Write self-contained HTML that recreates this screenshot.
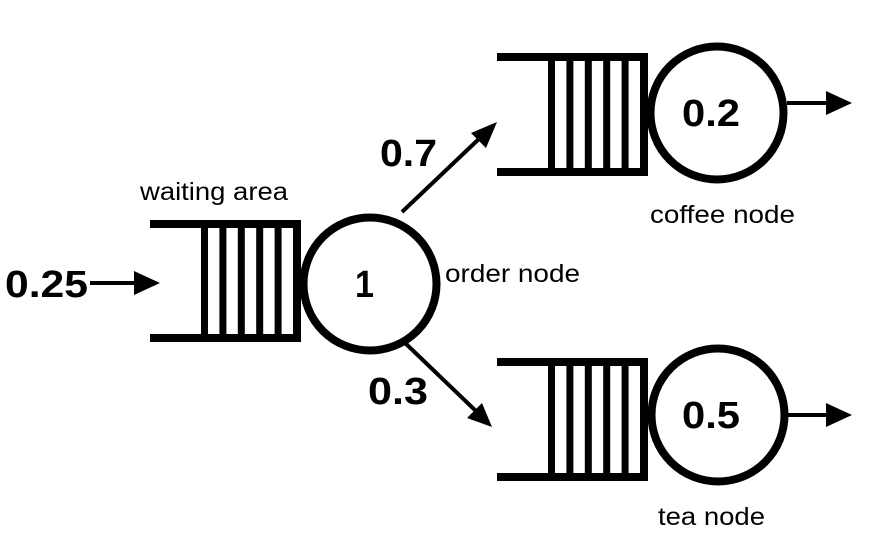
<!DOCTYPE html>
<html><head><meta charset="utf-8"><style>
html,body{margin:0;padding:0;background:#fff;}
svg{display:block;font-family:"Liberation Sans",Arial,sans-serif;}
</style></head><body>
<svg width="878" height="554" viewBox="0 0 878 554">
<g id="queues"></g>
<g><line x1="90" y1="283" x2="138" y2="283" stroke="#000" stroke-width="4"/><path d="M134,271 L160,283 L134,295 z" fill="#000"/></g>
<text x="5" y="297" font-size="38" font-weight="bold" textLength="83" lengthAdjust="spacingAndGlyphs">0.25</text>
<text x="140" y="200" font-size="25" textLength="148" lengthAdjust="spacingAndGlyphs">waiting area</text>
<g><line x1="402" y1="212" x2="482" y2="136" stroke="#000" stroke-width="4"/><path d="M497,122 L471,133 L486,148 z" fill="#000"/></g>
<g><line x1="402" y1="340" x2="478" y2="413" stroke="#000" stroke-width="4"/><path d="M492,427 L467,418 L482,403 z" fill="#000"/></g>
<text x="380" y="166" font-size="38" font-weight="bold" textLength="57" lengthAdjust="spacingAndGlyphs">0.7</text>
<text x="368" y="404" font-size="38" font-weight="bold" textLength="60" lengthAdjust="spacingAndGlyphs">0.3</text>
<text x="445" y="282" font-size="25" textLength="135" lengthAdjust="spacingAndGlyphs">order node</text>
<text x="650" y="223" font-size="25" textLength="145" lengthAdjust="spacingAndGlyphs">coffee node</text>
<text x="658" y="525" font-size="25" textLength="107" lengthAdjust="spacingAndGlyphs">tea node</text>
</svg>
<script>
var NS='http://www.w3.org/2000/svg';
var g=document.getElementById('queues');
var nodes=[
 {name:'order',qx:150,top:224,bot:338,cx:370,cy:284,label:'1',tx:355,tw:19,out:false},
 {name:'coffee',qx:497,top:57,bot:172,cx:717,cy:113,label:'0.2',tx:682,tw:58,out:true},
 {name:'tea',qx:497,top:362,bot:477,cx:718,cy:415,label:'0.5',tx:682,tw:58,out:true}
];
function mk(t,a){var e=document.createElementNS(NS,t);for(var k in a)e.setAttribute(k,a[k]);return e;}
nodes.forEach(function(n){
 var q=mk('g',{});
 
 
 var right=n.qx+150;
 q.appendChild(mk('line',{x1:n.qx,y1:n.top,x2:right,y2:n.top,stroke:'#000','stroke-width':8}));
 q.appendChild(mk('line',{x1:n.qx,y1:n.bot,x2:right,y2:n.bot,stroke:'#000','stroke-width':8}));
 for(var i=0;i<6;i++){
  var x=n.qx+51+i*18.4;
  q.appendChild(mk('rect',{x:x,y:n.top,width:7,height:n.bot-n.top,fill:'#000'}));
 }
 q.appendChild(mk('rect',{x:right-3,y:n.top-4,width:4,height:n.bot-n.top+8,fill:'#000'}));
 g.appendChild(q);
 var c=mk('g',{});
 
 
 c.appendChild(mk('circle',{cx:n.cx,cy:n.cy,r:66.5,fill:'#fff',stroke:'#000','stroke-width':8}));
 var t=mk('text',{x:n.tx,y:n.cy+13,'font-size':38,'font-weight':'bold',textLength:n.tw,lengthAdjust:'spacingAndGlyphs'});
 t.textContent=n.label;
 c.appendChild(t);
 g.appendChild(c);
 if(n.out){
  var a=mk('g',{});
  
  
  var y=n.cy-(n.name==='coffee'?10:0);
  a.appendChild(mk('line',{x1:n.cx+70,y1:y,x2:832,y2:y,stroke:'#000','stroke-width':4}));
  a.appendChild(mk('path',{d:'M826,'+(y-12)+' L852,'+y+' L826,'+(y+12)+' z',fill:'#000'}));
  g.appendChild(a);
 }
});
</script>
</body></html>
